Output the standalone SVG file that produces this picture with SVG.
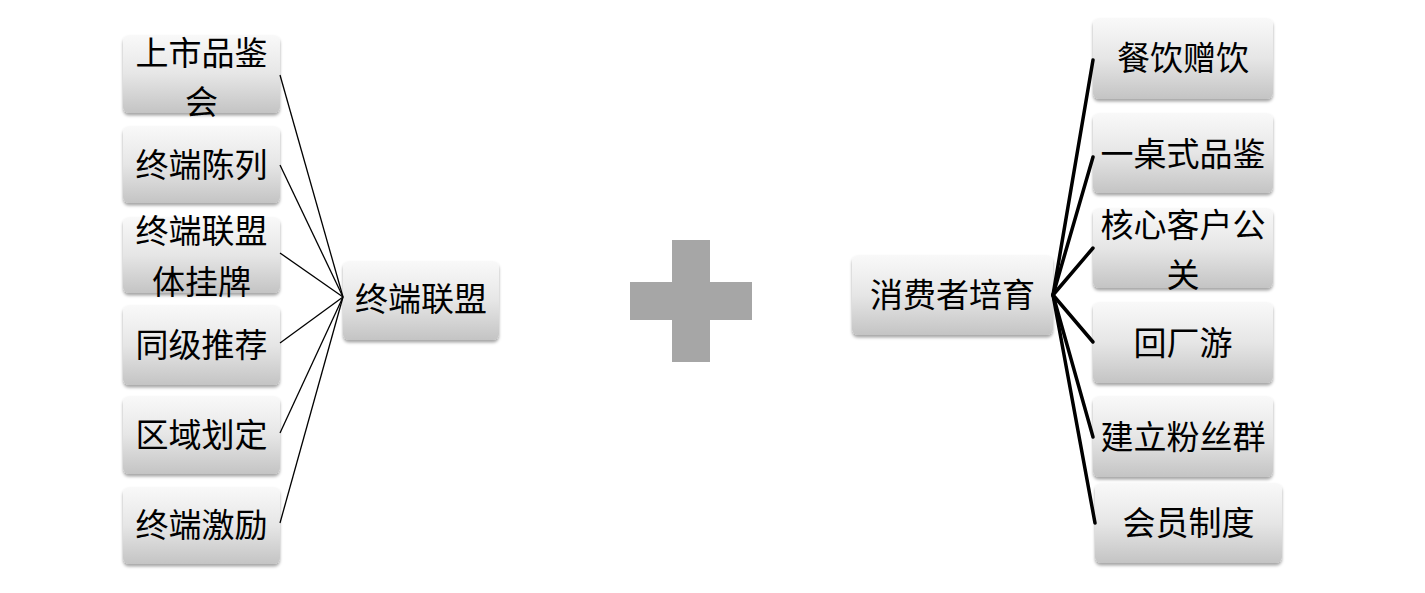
<svg xmlns="http://www.w3.org/2000/svg" width="1425" height="593" viewBox="0 0 1425 593">
<defs>
<linearGradient id="g" x1="0" y1="0" x2="0" y2="1">
<stop offset="0" stop-color="#f9f9f9"/>
<stop offset="0.5" stop-color="#e6e6e6"/>
<stop offset="1" stop-color="#c4c4c4"/>
</linearGradient>
<filter id="sh" x="-10%" y="-10%" width="120%" height="130%">
<feDropShadow dx="0" dy="2.5" stdDeviation="1.8" flood-color="#000" flood-opacity="0.35"/>
</filter>
</defs>
<style>
.box{fill:url(#g);filter:url(#sh);}
.t{font-family:"Noto Sans CJK SC","Noto Sans",sans-serif;font-size:33px;fill:#000;text-anchor:middle;}
.thin{stroke:#000;stroke-width:1.3;fill:none;}
.thick{stroke:#000;stroke-width:3.5;fill:none;stroke-linecap:round;}
</style>
<rect width="1425" height="593" fill="#fff"/>
<g id="left-nodes">
<g id="n1"><rect class="box" x="123" y="35" width="157" height="78" rx="6"/><text class="t" x="201.5" y="65">上市品鉴</text><text class="t" x="201.5" y="114">会</text></g>
<g id="n2"><rect class="box" x="123" y="126" width="157" height="77" rx="6"/><text class="t" x="201.5" y="177">终端陈列</text></g>
<g id="n3"><rect class="box" x="123" y="217" width="157" height="76" rx="6"/><text class="t" x="201.5" y="243">终端联盟</text><text class="t" x="201.5" y="294">体挂牌</text></g>
<g id="n4"><rect class="box" x="123" y="305" width="157" height="80" rx="6"/><text class="t" x="201.5" y="357">同级推荐</text></g>
<g id="n5"><rect class="box" x="123" y="396" width="157" height="78" rx="6"/><text class="t" x="201.5" y="447">区域划定</text></g>
<g id="n6"><rect class="box" x="123" y="487" width="157" height="77" rx="6"/><text class="t" x="201.5" y="537">终端激励</text></g>
</g>
<g id="center-left"><rect class="box" x="343" y="261" width="156" height="79" rx="6"/><text class="t" x="421" y="311">终端联盟</text></g>
<g id="plus"><path d="M672 240H710V282H752V320H710V362H672V320H630V282H672Z" fill="#a6a6a6"/></g>
<g id="center-right"><rect class="box" x="852" y="255" width="201" height="80" rx="6"/><text class="t" x="952.5" y="307">消费者培育</text></g>
<g id="right-nodes">
<g id="r1"><rect class="box" x="1093" y="18" width="180" height="81" rx="6"/><text class="t" x="1183" y="70">餐饮赠饮</text></g>
<g id="r2"><rect class="box" x="1093" y="113" width="180" height="80" rx="6"/><text class="t" x="1183" y="166">一桌式品鉴</text></g>
<g id="r3"><rect class="box" x="1093" y="208" width="180" height="80" rx="6"/><text class="t" x="1183" y="237">核心客户公</text><text class="t" x="1183" y="287">关</text></g>
<g id="r4"><rect class="box" x="1093" y="302" width="180" height="81" rx="6"/><text class="t" x="1183" y="355">回厂游</text></g>
<g id="r5"><rect class="box" x="1093" y="396" width="180" height="81" rx="6"/><text class="t" x="1183" y="449">建立粉丝群</text></g>
<g id="r6"><rect class="box" x="1095" y="483" width="187" height="80" rx="6"/><text class="t" x="1188.5" y="535">会员制度</text></g>
</g>
<g id="connectors">
<line class="thin" x1="280" y1="75" x2="343" y2="297"/>
<line class="thin" x1="280" y1="165" x2="343" y2="297"/>
<line class="thin" x1="280" y1="253" x2="343" y2="297"/>
<line class="thin" x1="280" y1="343" x2="343" y2="297"/>
<line class="thin" x1="280" y1="433" x2="343" y2="297"/>
<line class="thin" x1="280" y1="523" x2="343" y2="297"/>
<line class="thick" x1="1053" y1="295" x2="1093" y2="60"/>
<line class="thick" x1="1053" y1="295" x2="1093" y2="157"/>
<line class="thick" x1="1053" y1="295" x2="1093" y2="248"/>
<line class="thick" x1="1053" y1="295" x2="1093" y2="342"/>
<line class="thick" x1="1053" y1="295" x2="1093" y2="437"/>
<line class="thick" x1="1053" y1="295" x2="1095" y2="523"/>
</g>
</svg>
